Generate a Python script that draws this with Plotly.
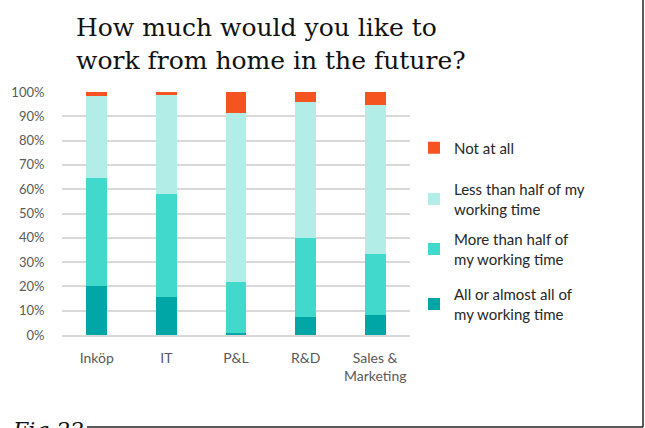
import plotly.graph_objects as go

categories = ["Inköp", "IT", "P&L", "R&D", "Sales &<br>Marketing"]
series_names = [
    "All or almost all of<br>my working time",
    "More than half of<br>my working time",
    "Less than half of my<br>working time",
    "Not at all",
]
all_or_almost = [20.2, 15.6, 0.7, 7.4, 8.2]
more_than_half = [44.3, 42.6, 21.1, 32.6, 25.0]
less_than_half = [33.7, 40.6, 69.4, 55.9, 61.5]
not_at_all = [1.8, 1.2, 8.8, 4.1, 5.3]
y_ticks = [0, 10, 20, 30, 40, 50, 60, 70, 80, 90, 100]
y_tick_labels = [f"{v}%" for v in y_ticks]

colors = ["#00A5A5", "#40D9CC", "#B2EDE8", "#F55420"]
values = [all_or_almost, more_than_half, less_than_half, not_at_all]

W, H = 645, 428
L, R, T, B = 62, 410, 92, 335  # plot area pixels


def px2x(p):
    return (p - L) / (R - L)


def py2y(p):
    return (B - p) / (B - T)


legend_names = ["legend4", "legend3", "legend2", "legend"]
legend_centers = [304, 249, 199, 148]

fig = go.Figure()
for name, vals, col, lg in zip(series_names, values, colors, legend_names):
    fig.add_trace(go.Bar(
        x=categories, y=vals, name=name, marker_color=col,
        marker_line_width=0, legend=lg,
    ))

legend_base = dict(
    xanchor="left", yanchor="middle", x=px2x(414),
    font=dict(family="Lato, Open Sans, sans-serif", size=15, color="#262626"),
    bgcolor="rgba(0,0,0,0)", itemwidth=30,
)
layout_legends = {}
for lg, cy in zip(legend_names, legend_centers):
    layout_legends[lg] = dict(legend_base, y=py2y(cy))

fig.update_layout(
    width=W, height=H,
    margin=dict(l=L, r=W - R, t=T, b=H - B, pad=0),
    barmode="stack", bargap=0.7,
    paper_bgcolor="white", plot_bgcolor="white",
    showlegend=True,
    xaxis=dict(
        showgrid=False, showline=True, linecolor="#D9D9D9", linewidth=1.5,
        ticks="outside", ticklen=9, tickcolor="rgba(0,0,0,0)",
        tickfont=dict(family="Lato, Open Sans, sans-serif", size=14, color="#595959"),
    ),
    yaxis=dict(
        range=[0, 100], tickvals=y_ticks, ticktext=y_tick_labels,
        showgrid=True, gridcolor="#D9D9D9", gridwidth=1.5,
        zeroline=False, showline=False,
        ticks="outside", ticklen=14, tickcolor="rgba(0,0,0,0)",
        tickfont=dict(family="Lato, Open Sans, sans-serif", size=13, color="#595959"),
    ),
    **layout_legends,
)

fig.add_annotation(
    text="How much would you like to<br>work from home in the future?",
    xref="paper", yref="paper", x=px2x(74), y=py2y(11),
    xanchor="left", yanchor="top", align="left", showarrow=False,
    font=dict(family="DejaVu Serif, Georgia, serif", size=25, color="#111111"),
)

fig.add_annotation(
    text="<i>Fig 22</i>", xref="paper", yref="paper",
    x=px2x(10), y=py2y(416), xanchor="left", yanchor="top",
    showarrow=False,
    font=dict(family="DejaVu Serif, Georgia, serif", size=22, color="#111111"),
)

fig.add_shape(type="line", xref="paper", yref="paper",
              x0=px2x(643), x1=px2x(643), y0=py2y(0), y1=py2y(427),
              line=dict(color="#222222", width=1.5))
fig.add_shape(type="line", xref="paper", yref="paper",
              x0=px2x(87), x1=px2x(643), y0=py2y(427), y1=py2y(427),
              line=dict(color="#222222", width=1.5))

fig.write_html("out.html")
